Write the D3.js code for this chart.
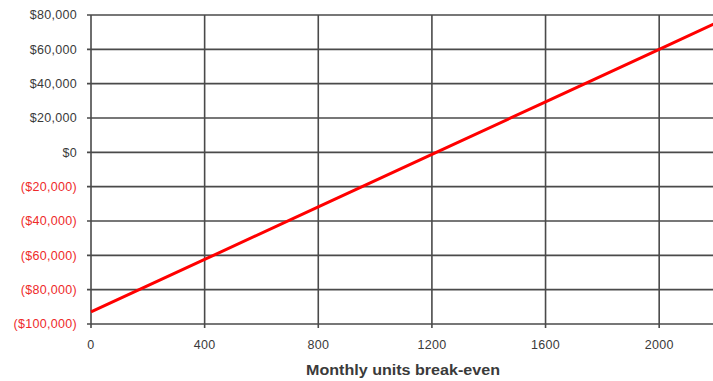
<!DOCTYPE html>
<html><head><meta charset="utf-8">
<script src="https://cdn.jsdelivr.net/npm/d3@7"></script>
<style>body{margin:0;background:#fff}svg{display:block}</style>
</head><body>
<script>
// Data
const units = [0, 400, 800, 1200, 1600, 2000, 2200];
const profit = [-93000, -62400, -31800, -1200, 29400, 60000, 75300];
const xTicks = [0, 400, 800, 1200, 1600, 2000];
const yTicks = [-100000, -80000, -60000, -40000, -20000, 0, 20000, 40000, 60000, 80000];
const xTitle = "Monthly units break-even";

const W = 713, H = 381;
const svg = d3.select("body").append("svg").attr("width", W).attr("height", H);
const x = d3.scaleLinear().domain([0, 2200]).range([91, 716]);
const y = d3.scaleLinear().domain([-100000, 80000]).range([324, 15]);
const fmt = v => v < 0 ? "($" + d3.format(",")(-v) + ")" : "$" + d3.format(",")(v);
const grid = "#4a4a4a";

// horizontal grid
svg.append("g").selectAll("line").data(yTicks).join("line")
  .attr("x1", 87).attr("x2", W).attr("y1", d => y(d)).attr("y2", d => y(d))
  .attr("stroke", grid).attr("stroke-width", 1.6);
// vertical grid
svg.append("g").selectAll("line").data(xTicks).join("line")
  .attr("x1", d => x(d)).attr("x2", d => x(d)).attr("y1", y(80000)).attr("y2", y(-100000) + 4)
  .attr("stroke", grid).attr("stroke-width", 1.6);

// y labels
svg.append("g").selectAll("text").data(yTicks).join("text")
  .attr("x", 77).attr("y", d => y(d)).attr("dy", "0.35em")
  .attr("text-anchor", "end").attr("font-family", "Arial, 'Liberation Sans', sans-serif")
  .attr("font-size", 12.5).attr("letter-spacing", 0.3)
  .attr("fill", d => d < 0 ? "#ee2a2a" : "#3a3a3a").text(fmt);
// x labels
svg.append("g").selectAll("text").data(xTicks).join("text")
  .attr("x", d => x(d)).attr("y", 345).attr("dy", "0.35em")
  .attr("text-anchor", "middle").attr("font-family", "Arial, 'Liberation Sans', sans-serif")
  .attr("font-size", 12.5).attr("letter-spacing", 0.3)
  .attr("fill", "#3a3a3a").text(d => d);
// title
svg.append("text").attr("x", 403).attr("y", 370).attr("dy", "0.35em")
  .attr("text-anchor", "middle").attr("font-family", "Arial, 'Liberation Sans', sans-serif")
  .attr("font-size", 14).attr("font-weight", "bold").attr("fill", "#3a3a3a")
  .attr("textLength", 194).attr("lengthAdjust", "spacingAndGlyphs").text(xTitle);

// line
const line = d3.line().x((d, i) => x(units[i])).y(d => y(d));
svg.append("path").datum(profit).attr("d", line)
  .attr("fill", "none").attr("stroke", "#ff0000").attr("stroke-width", 3);
</script>
</body></html>
